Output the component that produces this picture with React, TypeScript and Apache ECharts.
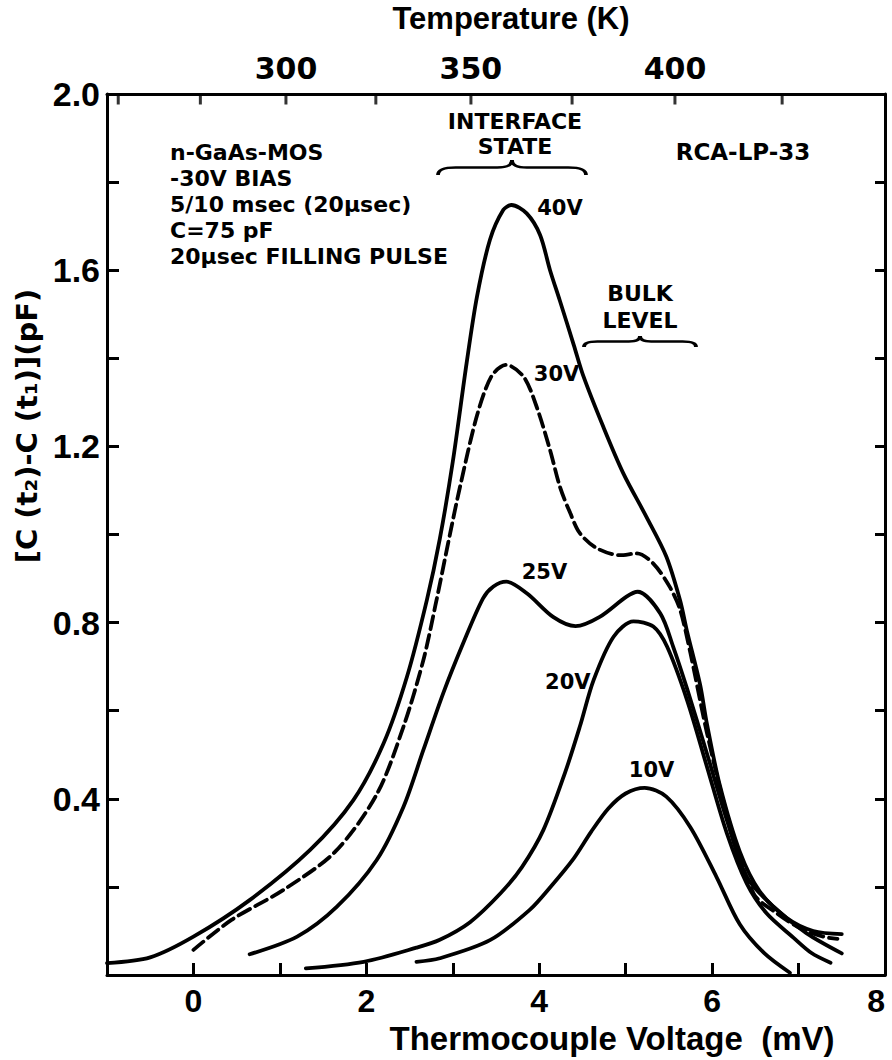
import React, { useEffect, useRef } from 'react';
import * as echarts from 'echarts';

// ---------- axis data ----------
const xMin = -1;
const xMax = 8;
const yMin = 0;
const yMax = 2;
const bottomLabelValues = [0, 2, 4, 6, 8];
const leftLabelValues = [0.4, 0.8, 1.2, 1.6, 2.0];

// top (temperature) axis: thermocouple voltage (mV) of each temperature tick
const tempTickK = [250, 275, 300, 325, 350, 375, 400, 425];
const tempTickMv = [-0.87, 0.08, 1.07, 2.11, 3.21, 4.38, 5.57, 6.81];
const tempLabelK = [300, 350, 400];

// ---------- series data (x: mV, y: pF) ----------
const x40 = [-1, -0.5, 0, 0.65, 1.35, 1.85, 2.2, 2.47, 2.7, 2.85, 3.0, 3.16, 3.28, 3.43, 3.585, 3.68, 3.855, 4.01, 4.125, 4.24, 4.4, 4.51, 4.74, 4.97, 5.24, 5.47, 5.63, 5.71, 5.86, 5.94, 6.09, 6.32, 6.55, 6.86, 7.17, 7.5];
const y40 = [0.027, 0.04, 0.087, 0.17, 0.284, 0.397, 0.526, 0.677, 0.851, 0.99, 1.165, 1.389, 1.54, 1.669, 1.737, 1.748, 1.729, 1.68, 1.6, 1.53, 1.43, 1.36, 1.245, 1.14, 1.04, 0.95, 0.85, 0.78, 0.66, 0.57, 0.43, 0.28, 0.19, 0.13, 0.1, 0.093];

const x30 = [0, 0.44, 1.04, 1.64, 2.12, 2.43, 2.66, 2.8, 2.97, 3.08, 3.28, 3.45, 3.62, 3.82, 3.97, 4.125, 4.24, 4.36, 4.47, 4.665, 4.935, 5.13, 5.32, 5.51, 5.63, 5.75, 5.94, 6.17, 6.48, 6.75, 7.02, 7.29, 7.45];
const y30 = [0.057, 0.125, 0.193, 0.28, 0.41, 0.564, 0.715, 0.84, 1.003, 1.105, 1.27, 1.36, 1.385, 1.358, 1.29, 1.192, 1.108, 1.048, 1.003, 0.969, 0.953, 0.957, 0.934, 0.881, 0.829, 0.73, 0.55, 0.367, 0.185, 0.14, 0.106, 0.087, 0.082];

const x25 = [0.65, 1.2, 1.66, 2.12, 2.43, 2.66, 2.89, 3.12, 3.35, 3.47, 3.62, 3.86, 4.16, 4.42, 4.7, 5.01, 5.14, 5.4, 5.55, 5.71, 5.94, 6.17, 6.4, 6.71, 7.09, 7.5];
const y25 = [0.047, 0.087, 0.155, 0.261, 0.382, 0.511, 0.64, 0.753, 0.855, 0.882, 0.893, 0.866, 0.813, 0.792, 0.813, 0.859, 0.87, 0.821, 0.745, 0.65, 0.503, 0.352, 0.223, 0.155, 0.095, 0.049];

const x20 = [1.3, 1.97, 2.58, 2.85, 3.2, 3.55, 3.8, 4.05, 4.3, 4.47, 4.63, 4.86, 5.09, 5.32, 5.48, 5.71, 5.94, 6.17, 6.4, 6.63, 6.94, 7.15, 7.37];
const y20 = [0.015, 0.03, 0.062, 0.08, 0.12, 0.185, 0.245, 0.33, 0.46, 0.564, 0.67, 0.768, 0.803, 0.791, 0.745, 0.624, 0.473, 0.322, 0.208, 0.14, 0.085, 0.05, 0.028];

const x10 = [2.58, 2.85, 3.43, 3.89, 4.13, 4.4, 4.6, 4.8, 5.0, 5.22, 5.47, 5.75, 6.05, 6.32, 6.6, 6.9];
const y10 = [0.03, 0.038, 0.079, 0.148, 0.2, 0.265, 0.325, 0.378, 0.412, 0.425, 0.405, 0.335, 0.223, 0.115, 0.05, 0.005];

const seriesNames = ['40V', '30V', '25V', '20V', '10V'];
const labelX = [4.24, 4.2, 4.06, 4.33, 5.3];
const labelY = [1.741, 1.364, 0.915, 0.665, 0.465];

const annotationLines = ['n-GaAs-MOS', '-30V BIAS', '5/10 msec (20\u03bcsec)', 'C=75 pF', '20\u03bcsec FILLING PULSE'];

// ---------- helpers ----------
const zip = (xs: number[], ys: number[]) => xs.map((x, i) => [x, ys[i]]);

const BRACE_D = 'M0,16 C0,10 4,8 12,8 L40,8 C46,8 50,6 50,0 C50,6 54,8 60,8 L88,8 C96,8 100,10 100,16';
echarts.graphic.registerShape('brace', echarts.graphic.extendPath(BRACE_D, {}));

const BOLD_WIDE = '"DejaVu Sans", sans-serif';
const BOLD_ARIAL = '"Liberation Sans", Arial, "DejaVu Sans", sans-serif';

export default function App() {
  const ref = useRef<HTMLDivElement>(null);

  useEffect(() => {
    document.body.style.margin = '0';
    if (!ref.current) return;
    const chart = echarts.init(ref.current, undefined, { renderer: 'svg' });

    const lineColor = '#000';
    const axisLineStyle = { color: lineColor, width: 3 };

    const allX = [x40, x30, x25, x20, x10];
    const allY = [y40, y30, y25, y20, y10];

    const series: any[] = allX.map((xs, i) => ({
      name: seriesNames[i],
      type: 'line',
      xAxisIndex: 0,
      yAxisIndex: 0,
      data: zip(xs, allY[i]),
      showSymbol: false,
      smooth: 0.3,
      silent: true,
      lineStyle: {
        color: lineColor,
        width: 3.8,
        type: i === 1 ? [13, 6] : 'solid',
        cap: 'round',
      },
      markPoint: {
        symbol: 'circle',
        symbolSize: 1,
        itemStyle: { color: 'rgba(0,0,0,0)' },
        silent: true,
        label: {
          show: true,
          position: 'inside',
          formatter: '{b}',
          color: '#000',
          fontFamily: BOLD_WIDE,
          fontWeight: 'bold',
          fontSize: 21,
        },
        data: [{ name: seriesNames[i], coord: [labelX[i], labelY[i]] }],
      },
    }));

    // inward ticks of the temperature axis, placed through the top axis scale
    series.push({
      name: 'temperature ticks',
      type: 'scatter',
      xAxisIndex: 1,
      yAxisIndex: 0,
      data: tempTickMv.map((v) => [v, yMax]),
      symbol: 'rect',
      symbolSize: [3, 11],
      symbolOffset: [0, 5],
      clip: false,
      silent: true,
      itemStyle: { color: lineColor },
      z: 5,
    });

    const option: any = {
      animation: false,
      backgroundColor: '#fff',
      grid: { left: 107, right: 7, top: 94, bottom: 85, containLabel: false, outerBoundsMode: 'none' },
      xAxis: [
        {
          type: 'value',
          position: 'bottom',
          min: xMin,
          max: xMax,
          interval: 1,
          name: 'Thermocouple Voltage  (mV)',
          nameLocation: 'middle',
          nameGap: 45,
          nameTextStyle: {
            fontFamily: BOLD_ARIAL,
            fontWeight: 'bold',
            fontSize: 33,
            color: '#000',
            padding: [0, 0, 0, 232],
          },
          axisLine: { show: true, onZero: false, lineStyle: axisLineStyle },
          axisTick: { show: true, inside: true, length: 12, lineStyle: axisLineStyle },
          axisLabel: {
            margin: 10,
            color: '#000',
            fontFamily: BOLD_ARIAL,
            fontWeight: 'bold',
            fontSize: 32,
            alignMaxLabel: 'right',
            formatter: (v: number) => (bottomLabelValues.some((b) => Math.abs(b - v) < 1e-6) ? String(Math.round(v)) : ''),
          },
          splitLine: { show: false },
        },
        {
          type: 'value',
          position: 'top',
          min: xMin,
          max: xMax,
          name: 'Temperature (K)',
          nameLocation: 'middle',
          nameGap: 60,
          nameTextStyle: {
            fontFamily: BOLD_ARIAL,
            fontWeight: 'bold',
            fontSize: 31,
            color: '#000',
            padding: [0, 0, 0, 30],
          },
          axisLine: { show: true, onZero: false, lineStyle: axisLineStyle },
          axisTick: { show: false },
          axisLabel: {
            margin: 11,
            color: '#000',
            fontFamily: BOLD_WIDE,
            fontWeight: 'bold',
            fontSize: 30,
            customValues: tempLabelK.map((k) => tempTickMv[tempTickK.indexOf(k)]),
            formatter: (v: number) => {
              const idx = tempTickMv.findIndex((m) => Math.abs(m - v) < 1e-6);
              return idx >= 0 ? String(tempTickK[idx]) : '';
            },
          },
          splitLine: { show: false },
        },
      ],
      yAxis: [
        {
          type: 'value',
          position: 'left',
          min: yMin,
          max: yMax,
          interval: 0.2,
          name: '[C (t\u2082)-C (t\u2081)](pF)',
          nameLocation: 'middle',
          nameGap: 58,
          nameTextStyle: {
            fontFamily: BOLD_WIDE,
            fontWeight: 'bold',
            fontSize: 29,
            color: '#000',
            padding: [0, 0, 0, 217],
          },
          axisLine: { show: true, onZero: false, lineStyle: axisLineStyle },
          axisTick: { show: true, inside: true, length: 12, lineStyle: axisLineStyle },
          axisLabel: {
            margin: 7,
            color: '#000',
            fontFamily: BOLD_ARIAL,
            fontWeight: 'bold',
            fontSize: 34,
            formatter: (v: number) => (leftLabelValues.some((b) => Math.abs(b - v) < 1e-6) ? v.toFixed(1) : ''),
          },
          splitLine: { show: false },
        },
        {
          type: 'value',
          position: 'right',
          min: yMin,
          max: yMax,
          interval: 0.2,
          axisLine: { show: true, onZero: false, lineStyle: axisLineStyle },
          axisTick: { show: true, inside: true, length: 10, lineStyle: axisLineStyle },
          axisLabel: { show: false },
          splitLine: { show: false },
        },
      ],
      series,
      graphic: [
        {
          type: 'text',
          left: 170,
          top: 139,
          style: {
            text: annotationLines.join('\n'),
            font: `bold 22px ${BOLD_WIDE}`,
            lineHeight: 26,
            fill: '#000',
          },
        },
        {
          type: 'text',
          x: 515,
          y: 109,
          style: {
            text: 'INTERFACE\nSTATE',
            font: `bold 22px ${BOLD_WIDE}`,
            lineHeight: 25,
            align: 'center',
            verticalAlign: 'top',
            fill: '#000',
          },
        },
        {
          type: 'text',
          x: 743,
          y: 152,
          style: {
            text: 'RCA-LP-33',
            font: `bold 23px ${BOLD_WIDE}`,
            align: 'center',
            verticalAlign: 'middle',
            fill: '#000',
          },
        },
        {
          type: 'text',
          x: 640,
          y: 280,
          style: {
            text: 'BULK\nLEVEL',
            font: `bold 22px ${BOLD_WIDE}`,
            lineHeight: 27,
            align: 'center',
            verticalAlign: 'top',
            fill: '#000',
          },
        },
        {
          type: 'brace',
          x: 438,
          y: 160,
          scaleX: 1.48,
          scaleY: 15 / 16,
          style: { stroke: '#000', fill: 'none', lineWidth: 3, strokeNoScale: true },
        },
        {
          type: 'brace',
          x: 584,
          y: 336,
          scaleX: 1.12,
          scaleY: 11 / 16,
          style: { stroke: '#000', fill: 'none', lineWidth: 3, strokeNoScale: true },
        },
      ],
    };

    chart.setOption(option);
    return () => {
      chart.dispose();
    };
  }, []);

  return <div ref={ref} style={{ width: 892, height: 1060 }} />;
}
